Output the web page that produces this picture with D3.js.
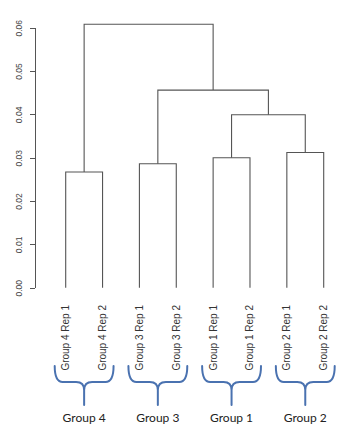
<!DOCTYPE html>
<html><head><meta charset="utf-8">
<script src="https://cdn.jsdelivr.net/npm/d3@7"></script>
<style>body{margin:0;background:#fff}svg{display:block}</style>
</head><body><svg id="c" width="350" height="440"></svg>
<script>
const leafLabels = ["Group 4 Rep 1","Group 4 Rep 2","Group 3 Rep 1","Group 3 Rep 2","Group 1 Rep 1","Group 1 Rep 2","Group 2 Rep 1","Group 2 Rep 2"];
// R hclust style merges: negative = leaf index (1-based), positive = earlier merge (1-based)
const merges = [[-1,-2],[-3,-4],[-5,-6],[-7,-8],[3,4],[2,5],[1,6]];
const mergeHeights = [0.0267, 0.0286, 0.0300, 0.0312, 0.0399, 0.0456, 0.0608];
const yTicks = [0, 0.01, 0.02, 0.03, 0.04, 0.05, 0.06];
const groupLabels = ["Group 4","Group 3","Group 1","Group 2"];

const svg = d3.select("#c");
const x = d3.scaleLinear().domain([1, 8]).range([65.7, 323.7]);
const y = d3.scaleLinear().domain([0, 0.06]).range([287.7, 27.7]);
const lineCol = "#555";

// y axis
const ax = svg.append("g").attr("transform","translate(35,0)")
  .call(d3.axisLeft(y).tickValues(yTicks).tickSize(5).tickSizeOuter(0).tickFormat(d3.format(".2f")));
ax.selectAll("path,line").attr("stroke", lineCol).attr("shape-rendering","crispEdges");
ax.selectAll("text").attr("font-family","Liberation Sans, Arial, sans-serif").attr("font-size",8.5)
  .attr("fill","#444").attr("text-anchor","middle")
  .attr("transform","translate(-16,0) rotate(-90)").attr("x",0).attr("dy","0.32em");

// dendrogram
const pos = [], hts = [];
function nodeX(id){ return id < 0 ? -id : pos[id-1]; }
function nodeH(id){ return id < 0 ? 0 : hts[id-1]; }
const g = svg.append("g").attr("fill","none").attr("stroke",lineCol).attr("stroke-width",1.1);
merges.forEach((m, i) => {
  const h = mergeHeights[i];
  const xa = nodeX(m[0]), xb = nodeX(m[1]);
  const ha = nodeH(m[0]), hb = nodeH(m[1]);
  g.append("path").attr("d",
    `M${x(xa)},${y(ha)}V${y(h)}H${x(xb)}V${y(hb)}`);
  pos.push((xa + xb) / 2); hts.push(h);
});

// leaf labels
svg.append("g").selectAll("text").data(leafLabels).join("text")
  .attr("transform",(d,i)=>`translate(${x(i+1)+3.5},305) rotate(-90)`)
  .attr("text-anchor","end")
  .attr("font-family","Liberation Sans, Arial, sans-serif").attr("font-size",10)
  .attr("fill","#333").text(d=>d);

// braces
const bg = svg.append("g").attr("fill","none").attr("stroke","#4a72b0").attr("stroke-width",2)
  .attr("stroke-linecap","round");
groupLabels.forEach((lab, k) => {
  const x0 = x(2*k+1) - 11, x1 = x(2*k+2) + 11, xc = (x(2*k+1)+x(2*k+2))/2;
  const y0 = 366, y1 = 382, yt = 405, r = 8;
  bg.append("path").attr("d",
    `M${x0},${y0}Q${x0},${y1} ${x0+r},${y1}L${xc-r},${y1}Q${xc},${y1} ${xc},${y1+r}L${xc},${yt}` +
    `M${x1},${y0}Q${x1},${y1} ${x1-r},${y1}L${xc+r},${y1}Q${xc},${y1} ${xc},${y1+r}`);
  svg.append("text").attr("x", xc).attr("y", 422).attr("text-anchor","middle")
    .attr("font-family","Lato, Liberation Sans, sans-serif").attr("font-size",12)
    .attr("fill","#222").text(lab);
});
</script></body></html>
